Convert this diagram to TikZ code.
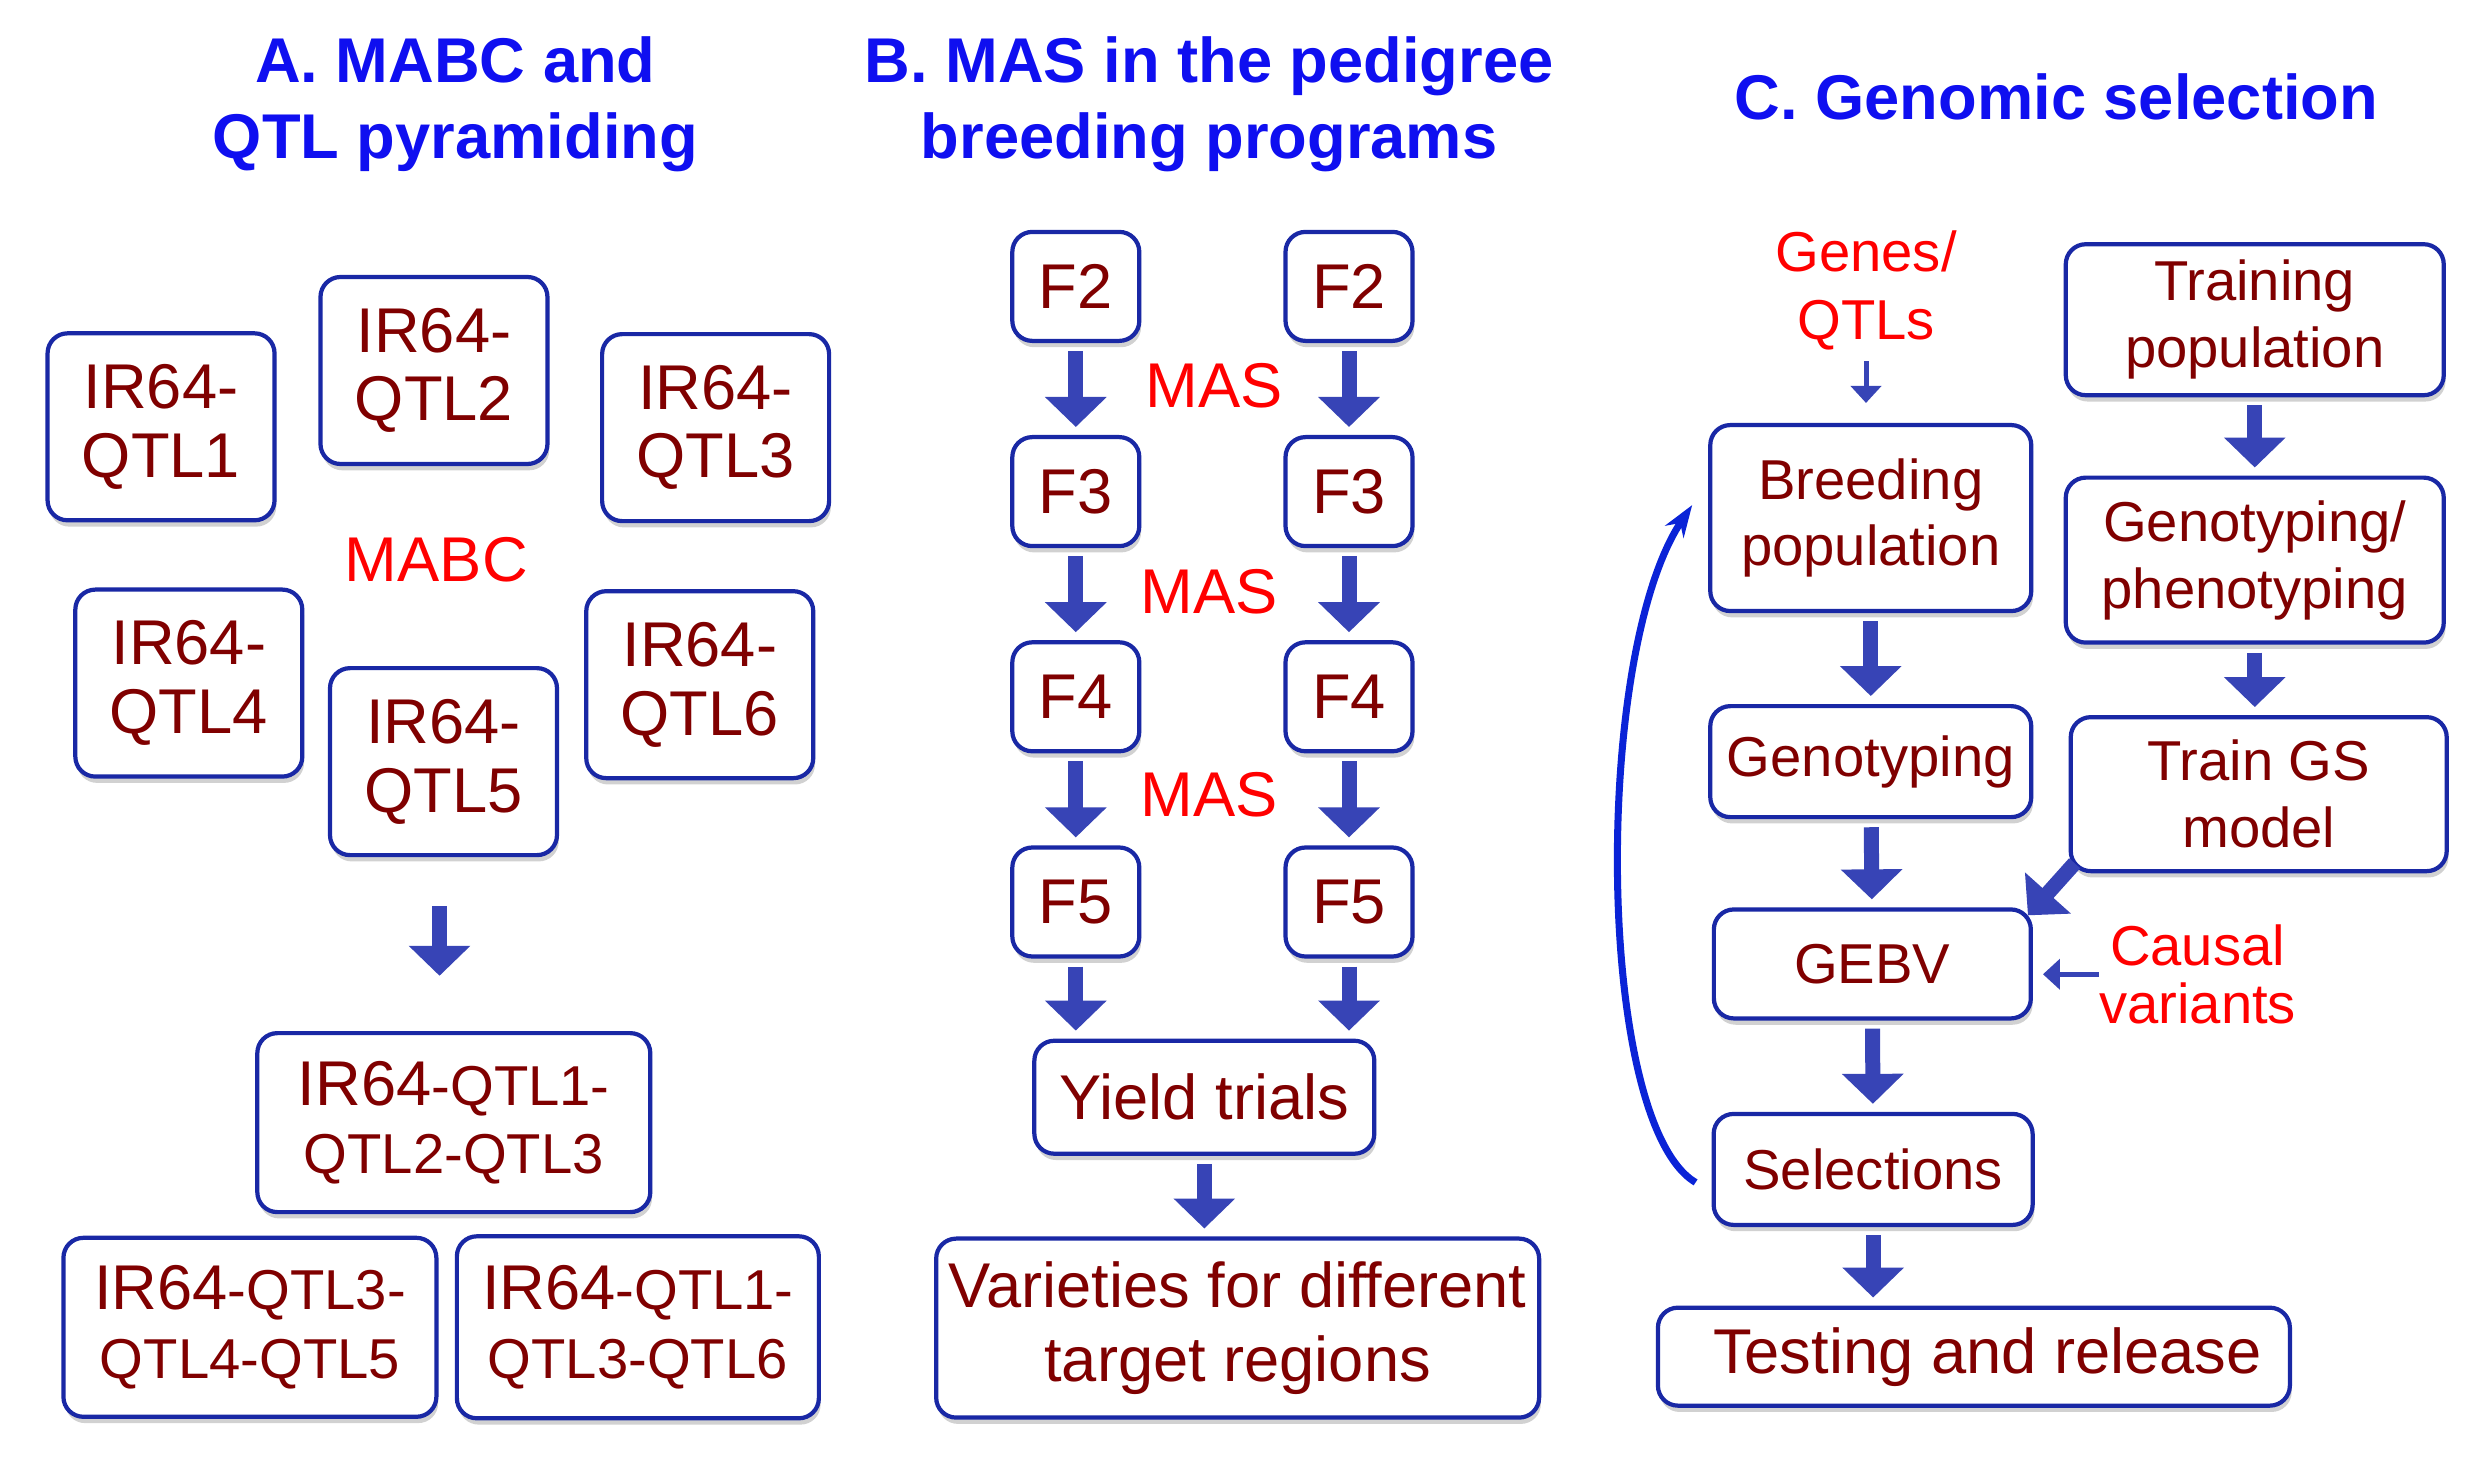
\documentclass[tikz,border=0pt]{standalone}
\usepackage{fontspec}
\setmainfont{Liberation Sans}
\usetikzlibrary{arrows.meta, positioning, shadows}

\definecolor{boxblue}{RGB}{25,40,165}
\definecolor{arrowblue}{RGB}{55,68,182}
\definecolor{headblue}{RGB}{15,15,240}
\definecolor{loopblue}{RGB}{10,35,215}
\definecolor{darkred}{RGB}{128,0,0}
\newcommand{\qsmall}{\fontsize{16}{20}\selectfont}

\begin{document}
\begin{tikzpicture}[
    x=0.015867cm, y=-0.015867cm,
    node distance=0.92cm,
    qbox/.style={rectangle, draw=boxblue, line width=1.2pt, rounded corners=0.2cm, fill=white, text=darkred, align=center, font=\fontsize{18}{19.5}\selectfont, inner sep=1pt, drop shadow={shadow xshift=0.5pt, shadow yshift=-1.8pt, fill=black, opacity=0.18}},
    linebox/.style={qbox, minimum width=2.27cm, minimum height=1.87cm},
    genbox/.style={qbox, minimum width=1.27cm, minimum height=1.09cm},
    cbox/.style={qbox, font=\fontsize{16}{19}\selectfont},
    blockarrow/.style={draw=arrowblue, line width=0.15cm, -{Triangle[width=0.6cm, length=0.3cm]}, shorten <=0.08cm, shorten >=0.08cm},
    thinarrow/.style={draw=arrowblue, line width=0.05cm, -{Triangle[width=0.3cm, length=0.17cm]}},
    redlabel/.style={text=red, align=center, inner sep=0pt},
    heading/.style={text=headblue, align=center, font=\fontsize{18}{21.6}\selectfont\bfseries, inner sep=0pt}
]
\useasboundingbox (0,0) rectangle (1568,930);

% A. MABC and QTL pyramiding
\node[heading] (titleA) at (287,66) {A. MABC and\\QTL pyramiding};
\node[linebox] (q1) at (101.5,269) {IR64-\\QTL1};
\node[linebox] (q2) at (273.5,233.5) {IR64-\\QTL2};
\node[linebox] (q3) at (451,269.5) {IR64-\\QTL3};
\node[linebox] (q4) at (119,430.5) {IR64-\\QTL4};
\node[linebox] (q5) at (279.5,480) {IR64-\\QTL5};
\node[linebox] (q6) at (441,431.5) {IR64-\\QTL6};
\node[redlabel, font=\fontsize{18}{20}\selectfont] (mabc) at (275,353) {MABC};
\coordinate (pyrtop) at (277,566);
\coordinate (pyrbot) at (277,620);
\draw[blockarrow] (pyrtop) -- (pyrbot);
\node[qbox, minimum width=3.93cm, minimum height=1.79cm] (c1) at (286,707.5) {IR64{\qsmall-QTL1-}\\{\qsmall QTL2-QTL3}};
\node[qbox, minimum width=3.73cm, minimum height=1.79cm] (c2) at (157.5,836.5) {IR64{\qsmall-QTL3-}\\{\qsmall QTL4-QTL5}};
\node[qbox, minimum width=3.62cm, minimum height=1.82cm] (c3) at (402,836.5) {IR64{\qsmall-QTL1-}\\{\qsmall QTL3-QTL6}};

% B. MAS in the pedigree breeding programs
\node[heading] (titleB) at (762,66) {B. MAS in the pedigree\\breeding programs};
\node[genbox] (f2l) at (678,180.5) {F2};
\node[genbox, right=1.42cm of f2l] (f2r) {F2};
\node[genbox, below=of f2l] (f3l) {F3};
\node[genbox, below=of f2r] (f3r) {F3};
\node[genbox, below=of f3l] (f4l) {F4};
\node[genbox, below=of f3r] (f4r) {F4};
\node[genbox, below=of f4l] (f5l) {F5};
\node[genbox, below=of f4r] (f5r) {F5};
\node[redlabel, font=\fontsize{18}{20}\selectfont] (mas1) at (765,243) {MAS};
\node[redlabel, font=\fontsize{18}{20}\selectfont] (mas2) at (762,373) {MAS};
\node[redlabel, font=\fontsize{18}{20}\selectfont] (mas3) at (762,501) {MAS};
\foreach \a/\b in {f2l/f3l, f3l/f4l, f4l/f5l, f2r/f3r, f3r/f4r, f4r/f5r}
    \draw[blockarrow] (\a) -- (\b);
\node[qbox, minimum width=3.4cm, minimum height=1.13cm] (yield) at (759,691.5) {Yield trials};
\node[qbox, minimum width=6.03cm, minimum height=1.79cm, font=\fontsize{18}{21}\selectfont] (varieties) at (780,837) {Varieties for different\\target regions};
\draw[blockarrow] (f5l.south) -- (f5l.south |- yield.north);
\draw[blockarrow] (f5r.south) -- (f5r.south |- yield.north);
\draw[blockarrow] (yield.south) -- (yield.south |- varieties.north);

% C. Genomic selection
\node[heading] (titleC) at (1296,61) {C. Genomic selection};
\node[redlabel, font=\fontsize{16}{19.5}\selectfont] (genes) at (1176,183) {Genes/\\QTLs};
\node[cbox, minimum width=3.78cm, minimum height=1.51cm] (train) at (1421,201.5) {Training\\population};
\node[cbox, minimum width=3.21cm, minimum height=1.86cm] (breed) at (1179,326.5) {Breeding\\population};
\node[cbox, minimum width=3.78cm, minimum height=1.65cm] (genopheno) at (1421,353) {Genotyping/\\phenotyping};
\node[cbox, minimum width=3.21cm, minimum height=1.11cm] (geno) at (1179,480) {Genotyping};
\node[cbox, minimum width=3.76cm, minimum height=1.54cm] (gsmodel) at (1423.5,500.5) {Train GS\\model};
\node[cbox, minimum width=3.17cm, minimum height=1.09cm] (gebv) at (1180,607.5) {GEBV};
\node[redlabel, font=\fontsize{16}{16.5}\selectfont] (causal) at (1385,614) {Causal\\variants};
\node[cbox, minimum width=3.19cm, minimum height=1.11cm] (sel) at (1180.5,737) {Selections};
\node[qbox, minimum width=6.32cm, minimum height=0.98cm] (release) at (1244,855) {\hspace*{0.27cm}Testing and release};

\draw[thinarrow, shorten <=0.1cm, shorten >=0.2cm] (genes.south) -- (genes.south |- breed.north);
\draw[blockarrow] (breed) -- (geno);
\draw[blockarrow] (geno) -- (gebv);
\draw[blockarrow] (gebv) -- (sel);
\draw[blockarrow] (sel.south) -- (sel.south |- release.north);
\draw[blockarrow] (train) -- (genopheno);
\draw[blockarrow] (genopheno.south) -- (genopheno.south |- gsmodel.north);
\draw[blockarrow, shorten <=0pt, shorten >=0pt] ([xshift=0.06cm, yshift=0.1cm]gsmodel.south west) -- ([xshift=-0.05cm, yshift=-0.08cm]gebv.north east);
\draw[thinarrow, shorten >=0.1cm] (causal.west) -- (gebv.east |- causal.west);
\draw[loopblue, line width=2pt, -{Stealth[length=0.32cm, width=0.22cm]}]
    ([xshift=-0.16cm, yshift=-0.13cm]sel.west) .. controls +(-1.0cm,0.6cm) and +(-1.0cm,-1.5cm) .. ([xshift=-0.16cm, yshift=0.13cm]breed.west);
\end{tikzpicture}
\end{document}
